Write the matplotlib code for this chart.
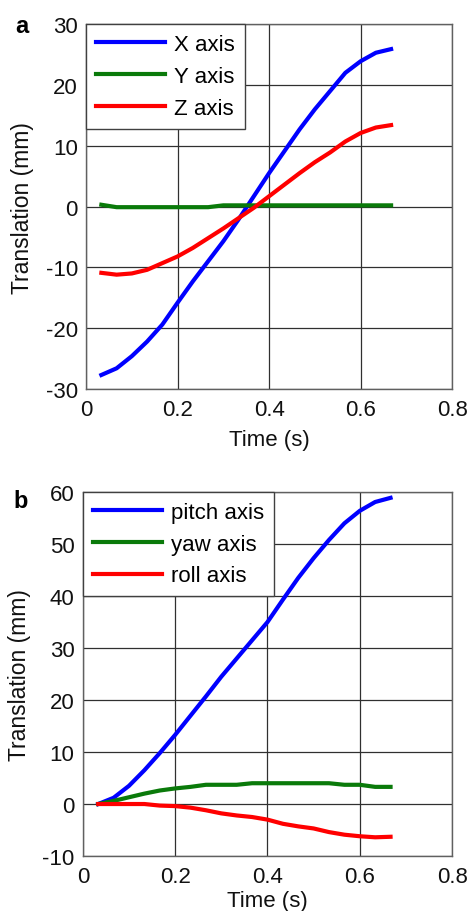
import numpy as np
import matplotlib
matplotlib.use("Agg")
import matplotlib.pyplot as plt

plt.rcParams['font.family'] = ['Liberation Sans', 'DejaVu Sans']

# Sample times (s)
time = [1/30, 2/30, 3/30, 4/30, 5/30, 6/30, 7/30, 8/30, 9/30, 10/30,
        11/30, 12/30, 13/30, 14/30, 15/30, 16/30, 17/30, 18/30, 19/30, 20/30]

# Panel a: translation along each axis (mm)
x_axis = [-27.7, -26.6, -24.6, -22.2, -19.4, -15.8, -12.3, -9.0, -5.7, -2.1,
          1.7, 5.5, 9.1, 12.7, 16.0, 19.0, 22.0, 23.9, 25.3, 25.9]
y_axis = [0.3, -0.1, -0.1, -0.1, -0.1, -0.1, -0.1, -0.1, 0.2, 0.2,
          0.2, 0.2, 0.2, 0.2, 0.2, 0.2, 0.2, 0.2, 0.2, 0.2]
z_axis = [-10.9, -11.2, -11.0, -10.4, -9.3, -8.2, -6.8, -5.2, -3.6, -1.9,
          -0.2, 1.7, 3.6, 5.5, 7.3, 8.9, 10.7, 12.1, 13.0, 13.4]

# Panel b: rotation axes
pitch_axis = [0.0, 1.2, 3.5, 6.5, 9.8, 13.3, 17.0, 20.7, 24.5, 28.0,
              31.5, 35.0, 39.3, 43.5, 47.3, 50.8, 54.0, 56.4, 58.1, 58.9]
yaw_axis = [0.0, 0.6, 1.3, 2.0, 2.6, 3.0, 3.3, 3.7, 3.7, 3.7,
            4.0, 4.0, 4.0, 4.0, 4.0, 4.0, 3.7, 3.7, 3.3, 3.3]
roll_axis = [0.0, 0.0, 0.0, 0.0, -0.3, -0.4, -0.7, -1.2, -1.8, -2.2,
             -2.5, -3.0, -3.8, -4.3, -4.7, -5.4, -5.9, -6.2, -6.4, -6.3]

x_ticks = [0, 0.2, 0.4, 0.6, 0.8]
x_tick_labels = ['0', '0.2', '0.4', '0.6', '0.8']
a_ticks = [-30, -20, -10, 0, 10, 20, 30]
b_ticks = [-10, 0, 10, 20, 30, 40, 50, 60]

BLUE = '#0000ff'
GREEN = '#0a7a0a'
RED = '#ff0000'
FS = 16

fig = plt.figure(figsize=(4.68, 9.12), dpi=100)


def style_axes(ax, yticks, ylim, xlabelpad):
    ax.set_xlim(0, 0.8)
    ax.set_ylim(*ylim)
    ax.set_xticks(x_ticks)
    ax.set_xticklabels(x_tick_labels)
    ax.set_yticks(yticks)
    ax.set_yticklabels([str(t) for t in yticks])
    ax.grid(True, color='#303030', linewidth=0.9)
    ax.set_axisbelow(True)
    for s in ax.spines.values():
        s.set_color('#606060')
        s.set_linewidth(1.0)
    ax.tick_params(direction='in', length=0, labelsize=FS, colors='#111111')
    ax.tick_params(axis='x', pad=7)
    ax.tick_params(axis='y', pad=6)
    ax.set_xlabel('Time (s)', fontsize=FS, color='#111111', labelpad=xlabelpad)
    ax.set_ylabel('Translation (mm)', fontsize=16.5, color='#111111', labelpad=8)


def add_legend(ax):
    leg = ax.legend(loc='upper left', borderaxespad=0, fontsize=FS,
                    handlelength=3.1, handletextpad=0.4, borderpad=0.45,
                    labelspacing=0.48, fancybox=False, framealpha=1)
    leg.get_frame().set_edgecolor('#404040')
    leg.get_frame().set_linewidth(1.0)


ax1 = fig.add_axes([0.184, 0.5724, 0.782, 0.400])
ax1.plot(time, x_axis, color=BLUE, lw=3, label='X axis')
ax1.plot(time, y_axis, color=GREEN, lw=3, label='Y axis')
ax1.plot(time, z_axis, color=RED, lw=3, label='Z axis')
style_axes(ax1, a_ticks, (-30, 30), 7)
add_legend(ax1)
fig.text(0.047, 0.971, 'a', fontsize=17, fontweight='bold', ha='center', va='center')

ax2 = fig.add_axes([0.177, 0.0603, 0.789, 0.399])
ax2.plot(time, pitch_axis, color=BLUE, lw=3, label='pitch axis')
ax2.plot(time, yaw_axis, color=GREEN, lw=3, label='yaw axis')
ax2.plot(time, roll_axis, color=RED, lw=3, label='roll axis')
style_axes(ax2, b_ticks, (-10, 60), 2)
add_legend(ax2)
fig.text(0.045, 0.450, 'b', fontsize=17, fontweight='bold', ha='center', va='center')

fig.savefig('out.png', dpi=100)
